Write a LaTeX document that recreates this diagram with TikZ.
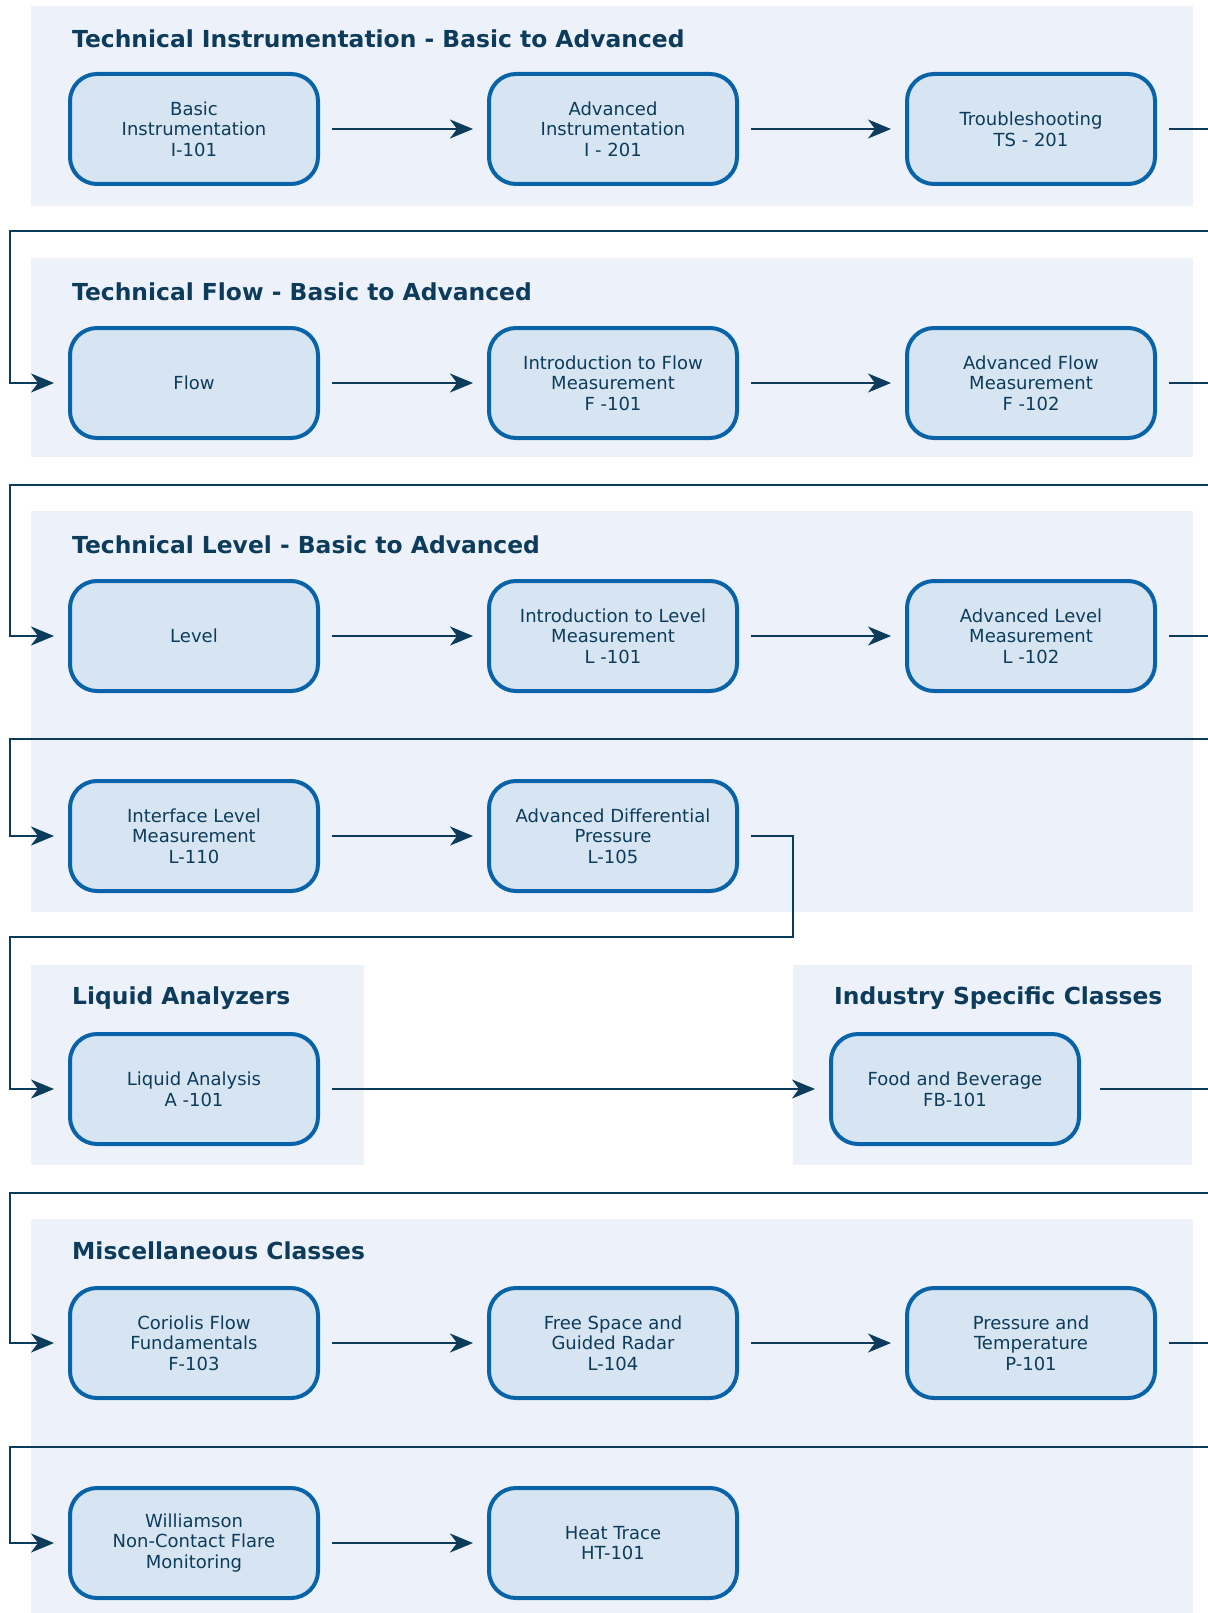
\documentclass[tikz,border=0pt]{standalone}
\usepackage{fontspec}
\setmainfont{DejaVu Sans}
\usetikzlibrary{arrows.meta,calc}
\definecolor{panelbg}{HTML}{EDF2FA}
\definecolor{boxfill}{HTML}{D7E5F2}
\definecolor{boxline}{HTML}{0863A8}
\definecolor{navy}{HTML}{0D3B5B}
\tikzset{
  panel/.style={fill=panelbg,draw=none},
  course/.style={rectangle,rounded corners=27pt,draw=boxline,fill=boxfill,line width=4pt,
    minimum width=248pt,minimum height=110pt,inner sep=0pt,align=center,text=navy,
    font=\fontsize{18}{20.7}\selectfont},
  ptitle/.style={anchor=west,text=navy,inner sep=0pt,font=\fontsize{23.4}{26}\selectfont\bfseries},
  conn/.style={draw=navy,line width=2pt,-{Stealth[length=23pt,width=19pt,inset=7pt]},
    shorten <=12pt,shorten >=14pt},
  loopline/.style={draw=navy,line width=2pt,-{Stealth[length=23pt,width=19pt,inset=7pt]}}
}
\begin{document}
\begin{tikzpicture}[x=1pt,y=-1pt]
\useasboundingbox (0,0) rectangle (1207,1613);
% panels
\fill[panel] (31,6) rectangle (1193,206);
\fill[panel] (31,258) rectangle (1193,457);
\fill[panel] (31,511) rectangle (1193,912);
\fill[panel] (31,965) rectangle (364,1165);
\fill[panel] (793,965) rectangle (1192,1165);
\fill[panel] (31,1219) rectangle (1193,1613);
% titles
\node[ptitle] (h1) at (72,39) {Technical Instrumentation - Basic to Advanced};
\node[ptitle] (h2) at (72,292) {Technical Flow - Basic to Advanced};
\node[ptitle] (h3) at (72,545) {Technical Level - Basic to Advanced};
\node[ptitle] (h4) at (72,998) {Liquid Analyzers};
\node[ptitle] (h5) at (834,998) {Industry Specific Classes};
\node[ptitle] (h6) at (72,1251) {Miscellaneous Classes};
% courses
\node[course] (i1) at (194,129) {Basic\\Instrumentation\\I-101};
\node[course] (i2) at (613,129) {Advanced\\Instrumentation\\I - 201};
\node[course] (i3) at (1031,129) {Troubleshooting\\TS - 201};
\node[course] (f1) at (194,383) {Flow};
\node[course] (f2) at (613,383) {Introduction to Flow\\Measurement\\F -101};
\node[course] (f3) at (1031,383) {Advanced Flow\\Measurement\\F -102};
\node[course] (l1) at (194,636) {Level};
\node[course] (l2) at (613,636) {Introduction to Level\\Measurement\\L -101};
\node[course] (l3) at (1031,636) {Advanced Level\\Measurement\\L -102};
\node[course] (l4) at (194,836) {Interface Level\\Measurement\\L-110};
\node[course] (l5) at (613,836) {Advanced Differential\\Pressure\\L-105};
\node[course] (a1) at (194,1089) {Liquid Analysis\\A -101};
\node[course] (fb) at (955,1089) {Food and Beverage\\FB-101};
\node[course] (m1) at (194,1343) {Coriolis Flow\\Fundamentals\\F-103};
\node[course] (m2) at (613,1343) {Free Space and\\Guided Radar\\L-104};
\node[course] (m3) at (1031,1343) {Pressure and\\Temperature\\P-101};
\node[course] (m4) at (194,1543) {Williamson\\Non-Contact Flare\\Monitoring};
\node[course] (m5) at (613,1543) {Heat Trace\\HT-101};
% loop coordinates
\coordinate (L1) at (10,231);
\coordinate (L2) at (10,485);
\coordinate (L3) at (10,739);
\coordinate (L4) at (10,937);
\coordinate (L5) at (10,1193);
\coordinate (L6) at (10,1447);
% straight connectors
\draw[conn] (i1) -- (i2);
\draw[conn] (i2) -- (i3);
\draw[conn] (f1) -- (f2);
\draw[conn] (f2) -- (f3);
\draw[conn] (l1) -- (l2);
\draw[conn] (l2) -- (l3);
\draw[conn] (l4) -- (l5);
\draw[conn] (a1) -- (fb);
\draw[conn] (m1) -- (m2);
\draw[conn] (m2) -- (m3);
\draw[conn] (m4) -- (m5);
% wrap connectors
\draw[loopline] ([xshift=12pt]i3.east) -- ++(80pt,0) |- (L1) |- ([xshift=-14pt]f1.west);
\draw[loopline] ([xshift=12pt]f3.east) -- ++(80pt,0) |- (L2) |- ([xshift=-14pt]l1.west);
\draw[loopline] ([xshift=12pt]l3.east) -- ++(80pt,0) |- (L3) |- ([xshift=-14pt]l4.west);
\draw[loopline] ([xshift=12pt]l5.east) -- ++(42pt,0) |- (L4) |- ([xshift=-14pt]a1.west);
\draw[loopline] ([xshift=19pt]fb.east) -- ++(150pt,0) |- (L5) |- ([xshift=-14pt]m1.west);
\draw[loopline] ([xshift=12pt]m3.east) -- ++(80pt,0) |- (L6) |- ([xshift=-14pt]m4.west);
\end{tikzpicture}
\end{document}
